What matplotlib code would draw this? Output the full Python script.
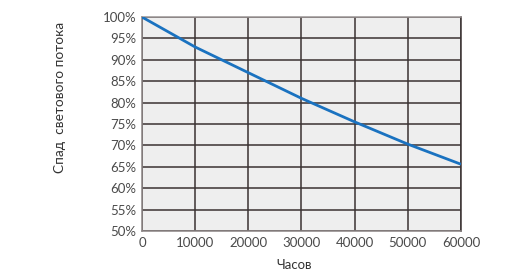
import matplotlib
matplotlib.use("Agg")
import matplotlib.pyplot as plt
from matplotlib.ticker import FuncFormatter

hours = [0, 10000, 20000, 30000, 40000, 50000, 60000]
flux = [100, 93.0, 87.0, 81.0, 75.5, 70.3, 65.6]
x_ticks = [0, 10000, 20000, 30000, 40000, 50000, 60000]
y_ticks = [50, 55, 60, 65, 70, 75, 80, 85, 90, 95, 100]

plt.rcParams['font.family'] = ['Lato', 'DejaVu Sans']

fig = plt.figure(figsize=(5.06, 2.75), dpi=100)
ax = fig.add_axes([0.2806, 0.16, 0.6304, 0.778])
ax.set_facecolor('#eeeeee')
ax.plot(hours, flux, color='#1a72c0', linewidth=2, zorder=3, solid_capstyle='butt')
ax.set_xlim(0, 60000)
ax.set_ylim(50, 100)
ax.set_xticks(x_ticks)
ax.set_yticks(y_ticks)
ax.yaxis.set_major_formatter(FuncFormatter(lambda v, p: f"{int(v)}%"))
ax.grid(True, color='#3a3232', linewidth=1.1, zorder=1)
ax.tick_params(length=0, labelsize=9.5, colors='#4a4a4a', pad=4)
ax.spines['top'].set_color('#9a9494')
ax.spines['right'].set_color('#3a3232')
ax.spines['left'].set_color('#8a8484')
ax.spines['bottom'].set_color('#8a8484')
for s in ax.spines.values():
    s.set_linewidth(1.1)
fig.text(294 / 506, 1 - 265 / 275, 'Часов', fontsize=9.5, color='#333333',
         ha='center', va='center')
fig.text(60 / 506, 1 - 97 / 275, 'Спад  светового потока', fontsize=9.8,
         color='#333333', ha='center', va='center', rotation=90)
fig.savefig('out.png', dpi=100)
